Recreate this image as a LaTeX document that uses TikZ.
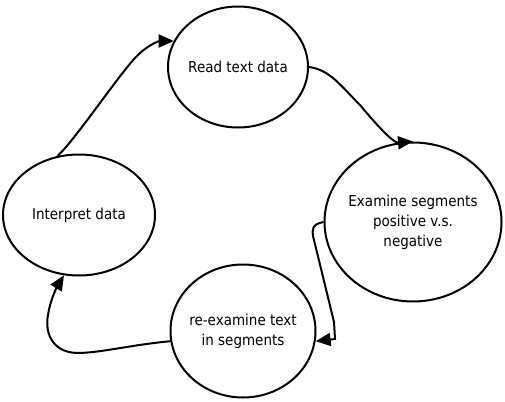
\documentclass[tikz,border=0pt]{standalone}
\usepackage{fontspec}
\setmainfont{DejaVu Sans}[FakeStretch=0.9]
\usetikzlibrary{shapes.geometric, arrows.meta}

\begin{document}
\begin{tikzpicture}[x=1pt, y=-1pt,
    stage/.style={ellipse, draw, line width=2pt, inner sep=0pt},
    flow/.style={-{Triangle[length=15pt, width=13pt]}, line width=2pt},
    font=\fontsize{15pt}{20pt}\selectfont]

    \useasboundingbox (0,0) rectangle (505,401);

    % --- Stages ---
    \node[stage, minimum width=152pt, minimum height=121pt,
          label={center:Interpret data}] (interp) at (79,215) {};
    \node[stage, minimum width=140pt, minimum height=121pt,
          label={center:Read text data}] (read) at (238,67) {};
    \node[stage, minimum width=177pt, minimum height=159pt,
          label={[align=center]center:Examine segments\\positive v.s.\\negative}] (examine) at (413,222) {};
    \node[stage, minimum width=145pt, minimum height=133pt,
          label={[align=center]center:re-examine text\\in segments}] (reexam) at (243,331) {};

    % --- Cycle ---
    % Interpret -> Read
    \draw[flow] (interp.110) .. controls (75,140) and (115,80) .. (135,58)
        .. controls (148,44) and (160,41) .. (read.158);

    % Read -> Examine
    \draw[flow] (read.east) .. controls (330,70) and (340,85) .. (360,105)
        .. controls (385,135) and (395,143) .. (examine.north);

    % Examine -> re-examine
    \draw[flow] (examine.west) .. controls (312,224) and (312,230) .. (313,236)
        -- (334,322) -- (335,339) -- (reexam.-8);

    % re-examine -> Interpret
    \draw[flow] (reexam.188) .. controls (130,345) and (100,353) .. (77,353)
        .. controls (50,352) and (45,330) .. (48,315)
        .. controls (50,300) and (58,285) .. (interp.-104);

\end{tikzpicture}
\end{document}
